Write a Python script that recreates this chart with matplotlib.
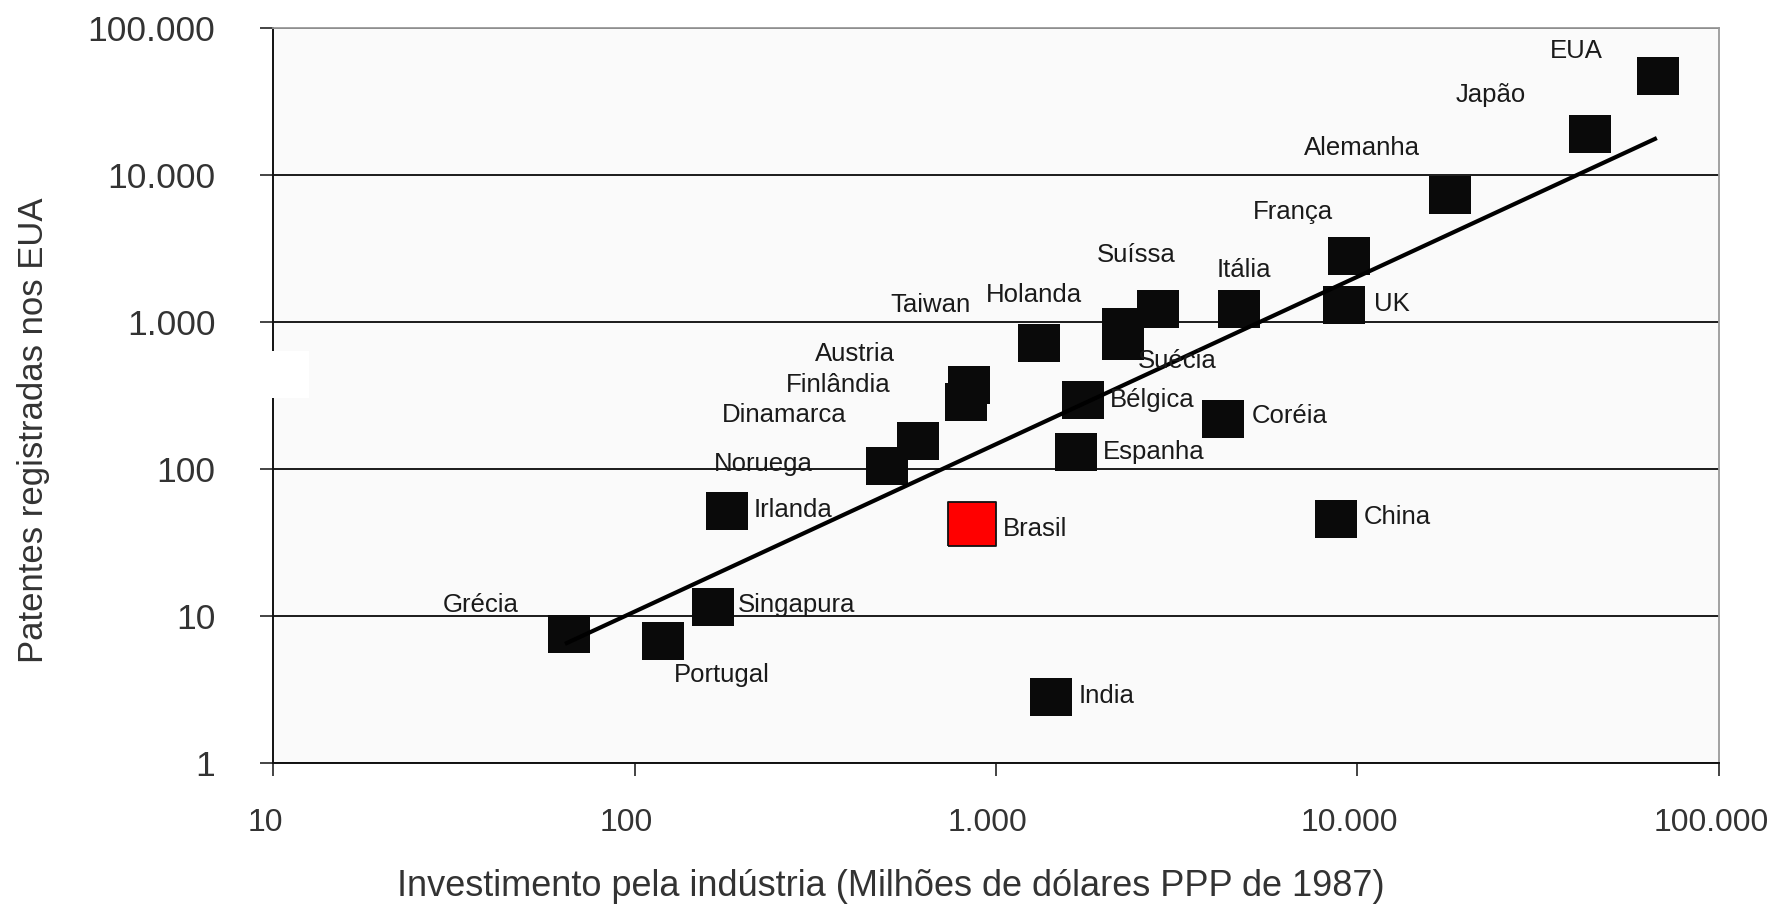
import numpy as np
import matplotlib.pyplot as plt
from matplotlib.patches import Rectangle
from matplotlib.ticker import NullLocator
from matplotlib.transforms import ScaledTranslation

plt.rcParams['font.family'] = ['Liberation Sans', 'DejaVu Sans']

# dados (escala log-log)
paises = ['EUA', 'Japão', 'Alemanha', 'França', 'UK', 'Itália', 'Suíssa',
          'Taiwan', 'Suécia', 'Holanda', 'Austria', 'Finlândia', 'Dinamarca',
          'Noruega', 'Bélgica', 'Espanha', 'Coréia', 'Irlanda', 'China',
          'India', 'Singapura', 'Portugal', 'Grécia']
investimento = [67800, 44000, 18000, 9500, 9200, 4700, 2800,
                2250, 2250, 1315, 840, 825, 610,
                500, 1740, 1660, 4250, 180, 8700,
                1420, 165, 120, 66]
patentes = [47000, 19000, 7300, 2800, 1300, 1230, 1230,
            925, 745, 720, 370, 285, 155,
            105, 295, 130, 220, 52, 46,
            2.8, 11.5, 6.8, 7.5]

brasil_x = [860]
brasil_y = [42]

# reta de tendencia
tendencia_x = [65, 66500]
tendencia_y = [6.55, 17600]

ticks = [1, 10, 100, 1000, 10000, 100000]
tick_labels = ['1', '10', '100', '1.000', '10.000', '100.000']

# deslocamento dos rotulos (pixels) em relacao ao ponto
desloc = {'EUA': (-108, 18), 'Japão': (-134, 32), 'Alemanha': (-146, 40),
          'França': (-97, 37), 'UK': (30, -6), 'Itália': (-22, 32),
          'Suíssa': (-61, 47), 'Taiwan': (-233, 15), 'Suécia': (15, -27),
          'Holanda': (-53, 41), 'Austria': (-154, 24), 'Finlândia': (-180, 10),
          'Dinamarca': (-197, 19), 'Noruega': (-173, -5), 'Bélgica': (27, -7),
          'Espanha': (27, -7), 'Coréia': (29, -4), 'Irlanda': (27, -6),
          'China': (28, -5), 'India': (28, -6), 'Singapura': (25, -5),
          'Portugal': (11, -41), 'Grécia': (-127, 22), 'Brasil': (31, -12)}

W, H = 1774, 906
fig = plt.figure(figsize=(W / 100, H / 100), dpi=100)
ax = fig.add_axes([273 / W, 1 - 763 / H, 1446 / W, 735 / H])
ax.set_facecolor('#fafafa')

ax.set_xscale('log')
ax.set_yscale('log')
ax.set_xlim(10, 100000)
ax.set_ylim(1, 100000)

ax.set_xticks(ticks[1:])
ax.set_xticklabels(tick_labels[1:])
ax.set_yticks(ticks)
ax.set_yticklabels(tick_labels)
ax.xaxis.set_minor_locator(NullLocator())
ax.yaxis.set_minor_locator(NullLocator())
ax.tick_params(axis='both', colors='#111111', labelcolor='#333333',
               length=9.5, width=1.1)
ax.tick_params(axis='y', pad=32, labelsize=25.5)
ax.tick_params(axis='x', pad=23, labelsize=23)

# no original os rotulos do eixo x ficam um pouco a esquerda dos ticks
desvio = ScaledTranslation(-0.08, 0, fig.dpi_scale_trans)
for rotulo in ax.get_xticklabels():
    rotulo.set_transform(rotulo.get_transform() + desvio)

ax.yaxis.grid(True, color='#1a1a1a', linewidth=1.4)
ax.set_axisbelow(True)

for lado in ['top', 'right']:
    ax.spines[lado].set_color('#9a9a9a')
    ax.spines[lado].set_linewidth(1.3)
for lado in ['left', 'bottom']:
    ax.spines[lado].set_color('#111111')
    ax.spines[lado].set_linewidth(1.4)

# marcadores quadrados (um pouco mais largos que altos, como no original)
quadrado = [(-21, -19), (21, -19), (21, 19), (-21, 19), (-21, -19)]
ax.scatter(investimento, patentes, marker=quadrado, s=(42 / 1.389) ** 2,
           color='#0a0a0a', linewidths=0, zorder=3)
ax.scatter(brasil_x, brasil_y, marker=quadrado, s=(48 / 1.389) ** 2,
           color='#ff0000', edgecolors='#111111', linewidths=1.3, zorder=3)

ax.plot(tendencia_x, tendencia_y, color='black', linewidth=3, zorder=4)

for nome, x, y in zip(paises + ['Brasil'], investimento + brasil_x, patentes + brasil_y):
    dx, dy = desloc[nome]
    ax.annotate(nome, (x, y), xytext=(dx, dy), textcoords='offset pixels',
                ha='left', va='baseline', fontsize=18.5, color='#1a1a1a', zorder=5)

fig.text(34 / W, 1 - 430 / H, 'Patentes registradas nos EUA', rotation=90,
         ha='center', va='center', fontsize=25, color='#333333')
fig.text(891 / W, 1 - 887 / H,
         'Investimento pela indústria (Milhões de dólares PPP de 1987)',
         ha='center', va='center', fontsize=26, color='#333333')

# pequena mancha branca sobre o eixo, como no original
fig.patches.append(Rectangle((272 / W, 1 - 398 / H), 37 / W, 47 / H,
                             transform=fig.transFigure, facecolor='white',
                             edgecolor='none', zorder=10))

fig.savefig('out.png', dpi=100)
